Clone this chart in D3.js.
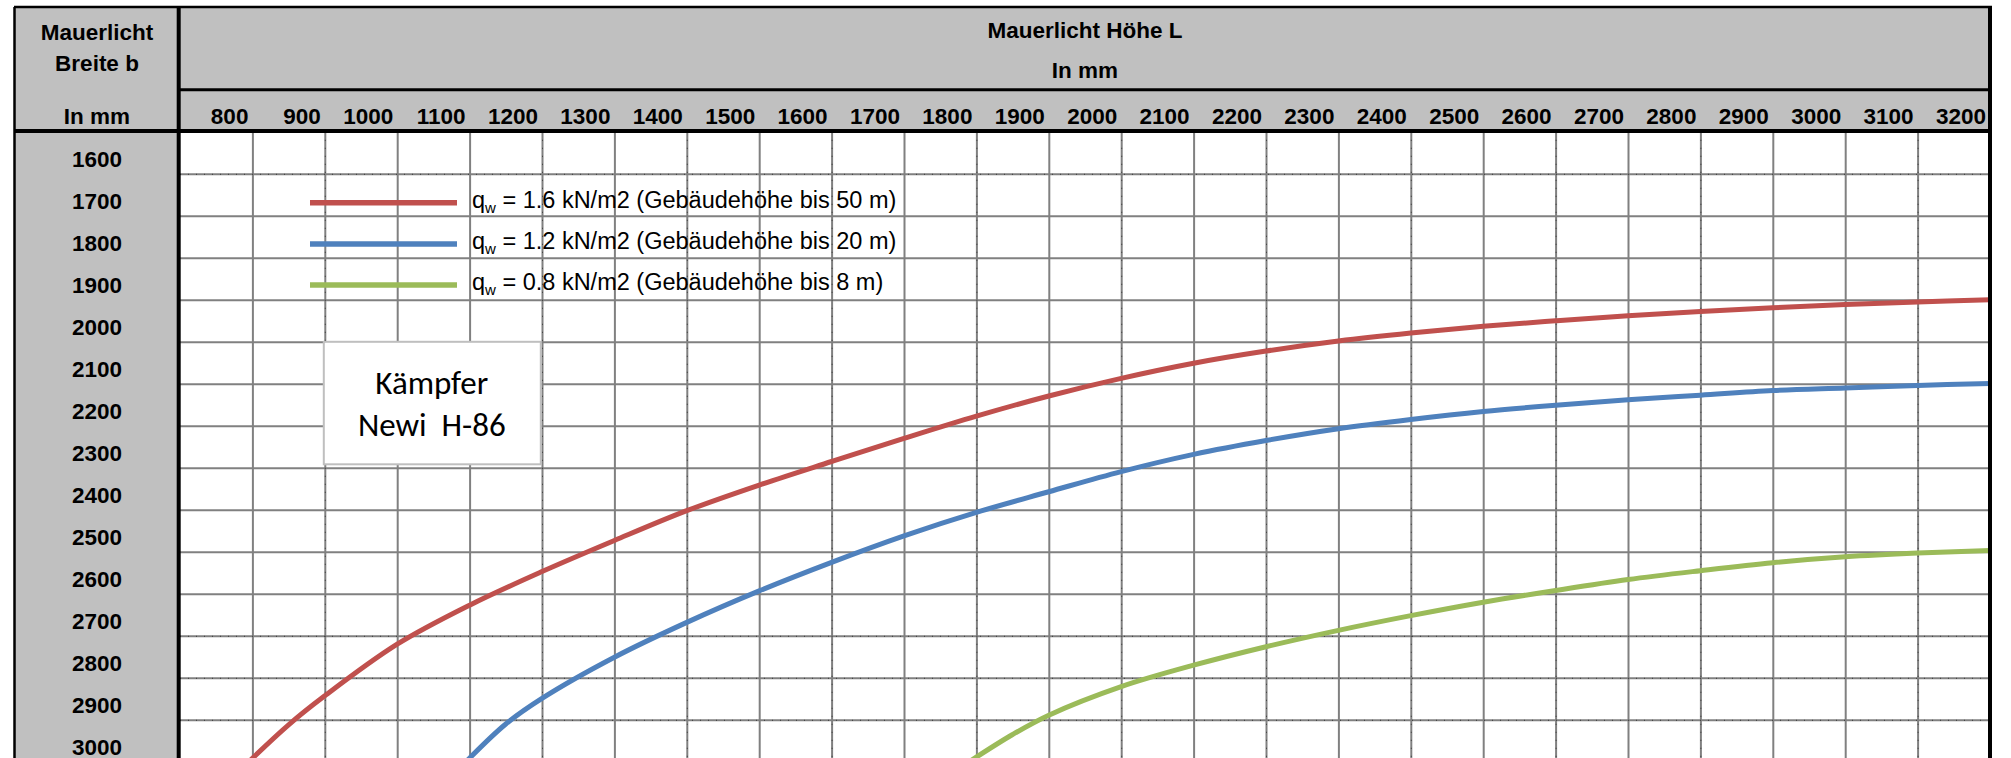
<!DOCTYPE html>
<html>
<head>
<meta charset="utf-8">
<script src="https://cdn.jsdelivr.net/npm/d3@7"></script>
<style>
body{margin:0;background:#fff;}
svg{display:block;}
text{font-family:Arial,"Liberation Sans",sans-serif;fill:#000;}
</style>
</head>
<body>
<svg id="stage" width="2011" height="758"></svg>
<script>
// Mauerlicht Höhe L (Spalten) und Breite b (Zeilen), in mm
var hoehenL=[800,900,1000,1100,1200,1300,1400,1500,1600,1700,1800,1900,2000,2100,2200,2300,2400,2500,2600,2700,2800,2900,3000,3100,3200];
var breitenB=[1600,1700,1800,1900,2000,2100,2200,2300,2400,2500,2600,2700,2800,2900,3000];

// Kurve qw = 1.6 kN/m2
var rotL=[795,850,900,1000,1100,1200,1300,1400,1500,1600,1700,1800,1900,2000,2100,2200,2300,2400,2500,2600,2700,2800,2900,3000,3100,3200];
var rotB=[3000,2912,2843,2720,2627,2547,2473,2402,2341,2285,2230,2177,2129,2087,2051,2022,1998,1979,1963,1950,1938,1928,1919,1911,1905,1900];
// Kurve qw = 1.2 kN/m2
var blauL=[1095,1150,1200,1300,1400,1500,1600,1700,1800,1900,2000,2100,2200,2300,2400,2500,2600,2700,2800,2900,3000,3100,3200];
var blauB=[3000,2910,2849,2751,2668,2593,2525,2462,2406,2357,2309,2268,2235,2207,2185,2166,2151,2138,2127,2116,2110,2104,2099];
// Kurve qw = 0.8 kN/m2
var gruenL=[1790,1850,1900,2000,2100,2200,2300,2400,2500,2600,2700,2800,2900,3000,3100,3200];
var gruenB=[3000,2935,2889,2821,2770,2726,2687,2652,2620,2592,2566,2545,2526,2512,2503,2497];

// Gitterlinien mit feinen Teilstrichen (Nebenachsen der überlagerten Diagramme)
var strichL=[900,1200,1400,1600,1800,2000,2200,2400,2600,2800,3100];
var strichB=[1600,2700,2800,2900];

var legendeTexte=[" = 1.6 kN/m2 (Gebäudehöhe bis 50 m)"," = 1.2 kN/m2 (Gebäudehöhe bis 20 m)"," = 0.8 kN/m2 (Gebäudehöhe bis 8 m)"];
var farben=["#C0504D","#4F81BD","#9BBB59"];

var svg=d3.select("#stage");
//plot area (note: "top" is taken by window.top, so own names)
var pLeft=180,pRight=1990,pTop=131.8,pBottom=761.8;

var x=d3.scaleLinear().domain([700,3200]).range([pLeft,pRight]);
var y=d3.scaleLinear().domain([1500,3000]).range([pTop,pBottom]);

//grey cells of the table
svg.append("rect").attr("x",14).attr("y",7).attr("width",pLeft-14).attr("height",758-7).attr("fill","#C0C0C0");
svg.append("rect").attr("x",pLeft).attr("y",7).attr("width",pRight-pLeft).attr("height",pTop-7).attr("fill","#C0C0C0");

//grid
var grid=svg.append("g").attr("class","grid");
grid.append("g")
	.attr("transform","translate(0,"+pTop+")")
	.call(d3.axisTop(x).tickValues(hoehenL.slice(0,-1)).tickSize(-(pBottom-pTop)).tickFormat(""));
grid.append("g")
	.attr("transform","translate("+pLeft+",0)")
	.call(d3.axisLeft(y).tickValues(breitenB.slice(0,-1)).tickSize(-(pRight-pLeft)).tickFormat(""));
grid.selectAll(".domain").remove();
grid.selectAll("line").attr("stroke","#808080").attr("stroke-width",2);

//minor tick dots on some grid lines
var minor=svg.append("g").attr("class","minor");
minor.append("g")
	.attr("transform","translate(0,"+pTop+")")
	.call(d3.axisTop(x).tickValues(strichL).tickSize(-(pBottom-pTop)).tickFormat(""));
minor.append("g")
	.attr("transform","translate("+pLeft+",0)")
	.call(d3.axisLeft(y).tickValues(strichB).tickSize(-(pRight-pLeft)).tickFormat(""));
minor.selectAll(".domain").remove();
minor.selectAll("line").attr("stroke","#3a3a3a").attr("stroke-width",1).attr("stroke-dasharray","1,7");

//legend (drawn straight on the grid, no box)
var legende=svg.append("g").attr("class","legend");
legendeTexte.forEach(function(t,i){
	var ly=202.7+i*41.2;
	legende.append("line")
		.attr("x1",310).attr("x2",457)
		.attr("y1",ly).attr("y2",ly)
		.attr("stroke",farben[i]).attr("stroke-width",5.5);
	var txt=legende.append("text")
		.attr("x",472).attr("y",ly+4.8)
		.style("font-size","23.5px");
	txt.append("tspan").text("q");
	txt.append("tspan").attr("dy",5).style("font-size","15px").text("w");
	txt.append("tspan").attr("dy",-5).text(t);
});

//text box
var box=svg.append("g").attr("class","kaempfer");
box.append("rect")
	.attr("x",x(900)-1).attr("y",y(2000))
	.attr("width",217).attr("height",122.5)
	.attr("fill","#fff").attr("stroke","#BFBFBF").attr("stroke-width",2);
box.append("text")
	.attr("x",x(900)+107).attr("y",393.5)
	.attr("text-anchor","middle")
	.style("font-family","Carlito,Calibri,Lato,sans-serif").style("font-size","33px")
	.text("Kämpfer");
box.append("text")
	.attr("x",x(900)+107).attr("y",435.5)
	.attr("text-anchor","middle")
	.style("font-family","Carlito,Calibri,Lato,sans-serif").style("font-size","33px")
	.style("white-space","pre")
	.text("Newi  H-86");

//curves
svg.append("clipPath").attr("id","plotClip")
	.append("rect").attr("x",pLeft).attr("y",pTop).attr("width",pRight-pLeft).attr("height",758-pTop);

var linie=d3.line()
	.x(function(d){return x(d[0]);})
	.y(function(d){return y(d[1]);})
	.curve(d3.curveCatmullRom.alpha(0.5));

var kurven=[d3.zip(rotL,rotB),d3.zip(blauL,blauB),d3.zip(gruenL,gruenB)];
svg.append("g").attr("clip-path","url(#plotClip)")
	.selectAll("path")
	.data(kurven)
	.enter().append("path")
		.attr("d",linie)
		.attr("fill","none")
		.attr("stroke",function(d,i){return farben[i];})
		.attr("stroke-width",5)
		.attr("stroke-linecap","butt");

//column labels (right aligned against their grid line)
var xAchse=svg.append("g")
	.attr("class","axis")
	.attr("transform","translate(0,124)")
	.call(d3.axisTop(x).tickValues(hoehenL).tickSize(0).tickPadding(0).tickFormat(d3.format("d")));
xAchse.select(".domain").remove();
xAchse.selectAll("text")
	.attr("x",-4.5)
	.attr("y",0)
	.attr("dy",0)
	.style("text-anchor","end")
	.style("font-size","22.5px").style("font-weight","bold")
	.attr("fill","#000");

//row labels
var yAchse=svg.append("g")
	.attr("class","axis")
	.attr("transform","translate(97,0)")
	.call(d3.axisLeft(y).tickValues(breitenB).tickSize(0).tickPadding(0).tickFormat(d3.format("d")));
yAchse.select(".domain").remove();
yAchse.selectAll("text")
	.attr("x",0)
	.attr("y",-7.5)
	.attr("dy",0)
	.style("text-anchor","middle")
	.style("font-size","22.5px").style("font-weight","bold")
	.attr("fill","#000");

//header texts
function kopf(t,px,py){
	svg.append("text")
		.attr("x",px).attr("y",py)
		.attr("text-anchor","middle")
		.style("font-size","22.5px").style("font-weight","bold")
		.text(t);
}
kopf("Mauerlicht",97,39.5);
kopf("Breite b",97,71);
kopf("In mm",97,124);
kopf("Mauerlicht Höhe L",(pLeft+pRight)/2,38);
kopf("In mm",(pLeft+pRight)/2,78);

//black frame lines
var rahmen=[
	[14.5,7,14.5,758,2.5],
	[14,7,1992,7,2.5],
	[178.7,7,178.7,758,4],
	[180,89.7,1992,89.7,3],
	[14,131,1992,131,4],
	[1990,7,1990,758,4]
];
svg.append("g").selectAll("line")
	.data(rahmen)
	.enter().append("line")
		.attr("x1",function(d){return d[0];})
		.attr("y1",function(d){return d[1];})
		.attr("x2",function(d){return d[2];})
		.attr("y2",function(d){return d[3];})
		.attr("stroke","#000")
		.attr("stroke-width",function(d){return d[4];});
</script>
</body>
</html>
